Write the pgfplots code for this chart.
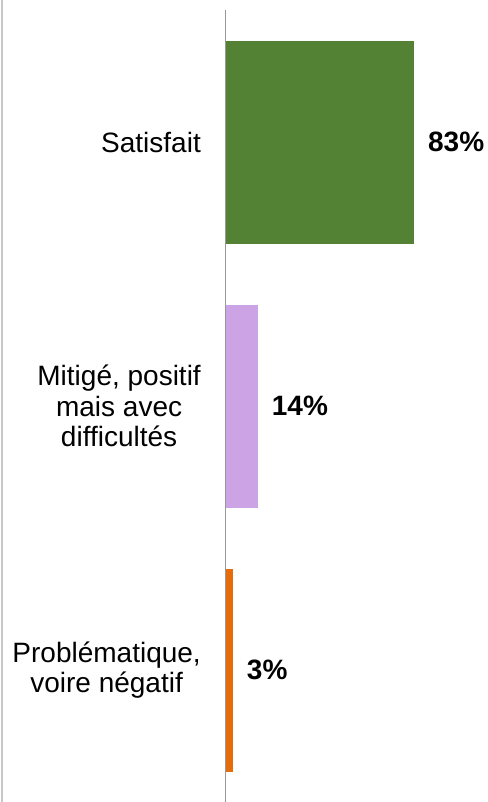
\documentclass[border=0pt]{standalone}
\usepackage{fontspec}
\setmainfont{Liberation Sans}
\usepackage{pgfplots}
\pgfplotsset{compat=1.18}
\definecolor{cgreen}{RGB}{84,130,53}
\definecolor{cpurple}{RGB}{204,163,228}
\definecolor{corange}{RGB}{228,108,10}
\begin{document}
\begin{tikzpicture}
\path[use as bounding box] (-226bp,0) rectangle (262bp,802bp);
\draw[black!22, line width=2bp] (-224bp,0) -- (-224bp,802bp);
\begin{axis}[
  at={(0,0)}, anchor=south west,
  scale only axis, width=262bp, height=792bp,
  xmin=0, xmax=115.7, ymin=-0.5, ymax=2.5,
  y dir=reverse,
  xbar, bar width=203bp, bar shift=0pt,
  axis line style={draw=none},
  xtick=\empty,
  ytick={0,1,2},
  yticklabels={{Satisfait},{Mitigé, positif\\mais avec\\difficultés},{Problématique,\\voire négatif}},
  yticklabel style={align=center, anchor=east, inner sep=0pt, xshift=-25bp,
    font=\fontsize{28bp}{30.5bp}\selectfont},
  major tick length=0pt,
  clip=false,
  /pgf/number format/assume math mode=true,
  point meta=x,
  nodes near coords={\pgfmathprintnumber{\pgfplotspointmeta}\%},
  every node near coord/.append style={font=\fontsize{28bp}{31bp}\selectfont\bfseries, anchor=west, inner sep=0pt, xshift=14bp, black},
]
\addplot[draw=none, fill=cgreen] coordinates {(83,0)};
\addplot[draw=none, fill=cpurple] coordinates {(14,1)};
\addplot[draw=none, fill=corange] coordinates {(3,2)};
\end{axis}
\draw[black!40, line width=1.2bp] (-0.5bp,0) -- (-0.5bp,792bp);
\end{tikzpicture}
\end{document}
